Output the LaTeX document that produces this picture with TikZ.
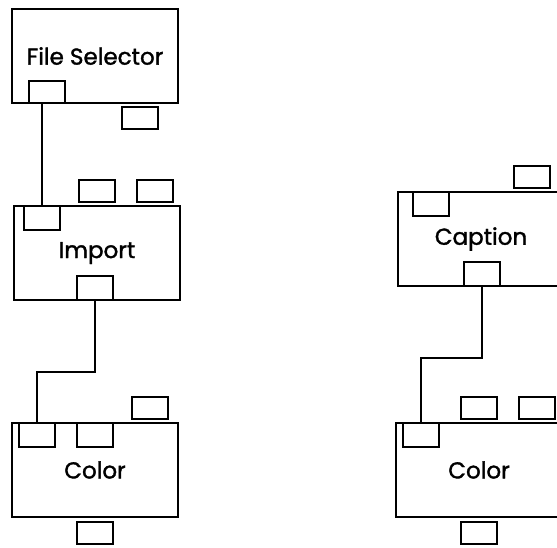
\documentclass[tikz,border=0pt]{standalone}
\usepackage{fontspec}
\newfontfamily\labelfont[FakeBold=1.5]{Poppins}
\begin{document}
\begin{tikzpicture}[x=1pt,y=-1pt,
  module/.style={draw=black, line width=2pt, rectangle, inner sep=0pt, outer sep=0pt,
    minimum width=166pt, minimum height=94pt, font=\labelfont\fontsize{23}{23}\selectfont},
  port/.style={draw=black, line width=2pt, rectangle, inner sep=0pt, outer sep=0pt,
    minimum width=36pt, minimum height=22pt},
  inport/.style={port, minimum height=24pt},
  wire/.style={draw=black, line width=2pt}]
\useasboundingbox (0,0) rectangle (557,547);
\clip (0,0) rectangle (557,547);

% left chain: File Selector -> Import -> Color
\node[module] (fs) at (95,56) {File Selector};
\node[port] (fsout) at (47,92) {};
\node[port] (fsfree) at (140,118) {};

\node[port] (imfreeA) at (97,191) {};
\node[port] (imfreeB) at (155,191) {};
\node[module] (im) at (97,253) {Import};
\node[inport] (imin) at (42,218) {};
\node[inport] (imout) at (95,288) {};

\node[port] (cfree) at (150,408) {};
\node[module] (col) at (95,470) {Color};
\node[inport] (cin) at (37,435) {};
\node[inport] (cinB) at (95,435) {};
\node[port] (cout) at (95,533) {};

% right chain: Caption -> Color
\node[port] (capfree) at (532,177) {};
\node[module] (cap) at (481,239) {Caption};
\node[inport] (capin) at (431,204) {};
\node[inport] (capout) at (482,274) {};

\node[port] (c2freeA) at (479,408) {};
\node[port] (c2freeB) at (537,408) {};
\node[module] (col2) at (479,470) {Color};
\node[inport] (c2in) at (421,435) {};
\node[port] (c2out) at (479,533) {};

% connections
\coordinate (ljog) at (0,372);
\coordinate (rjog) at (0,358);
\draw[wire] (fsout.south -| imin.north) -- (imin.north);
\draw[wire] (imout.south) |- (cin.north |- ljog) -- (cin.north);
\draw[wire] (capout.south) |- (c2in.north |- rjog) -- (c2in.north);
\end{tikzpicture}
\end{document}
